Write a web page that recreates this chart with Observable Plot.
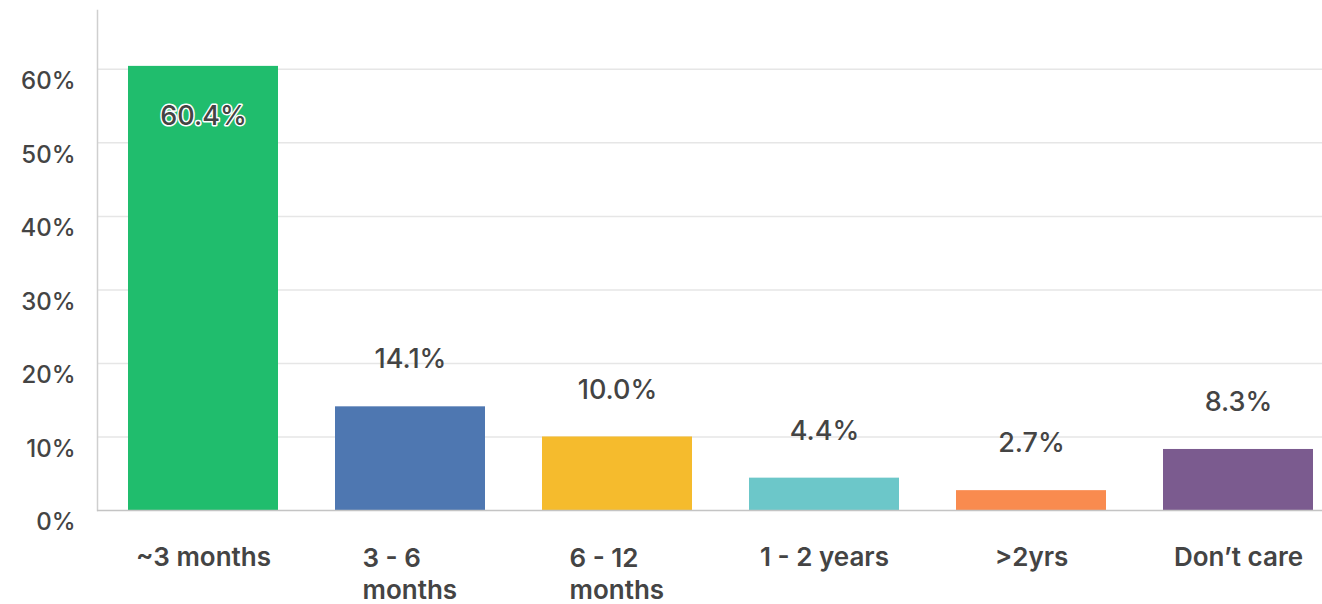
<!DOCTYPE html>
<html>
<head>
<meta charset="utf-8">
<script src="https://cdn.jsdelivr.net/npm/d3@7"></script>
<script src="https://cdn.jsdelivr.net/npm/@observablehq/plot@0.6"></script>
<style>
  html, body { margin: 0; padding: 0; background: #fff; }
  #chart svg { display: block; }
</style>
</head>
<body>
<div id="chart"></div>
<script>
const categories = ["~3 months", "3 - 6\nmonths", "6 - 12\nmonths", "1 - 2 years", ">2yrs", "Don’t care"];
const values = [60.4, 14.1, 10.0, 4.4, 2.7, 8.3];
const colors = ["#20bd6d", "#4e77b1", "#f5bb2d", "#6cc7c9", "#f98b4f", "#7b5b8f"];
const yTicks = [0, 10, 20, 30, 40, 50, 60];

const data = categories.map((c, i) => ({cat: c, value: values[i], color: colors[i], multi: c.includes("\n")}));
const inside = data.filter(d => d.value > 40);
const outside = data.filter(d => d.value <= 40);

const font = "Inter, 'Open Sans', sans-serif";

const chart = Plot.plot({
  width: 1322,
  height: 604,
  marginTop: 10,
  marginBottom: 94,
  marginLeft: 97,
  marginRight: 0,
  style: {fontFamily: font, fontSize: "20px", color: "#444", background: "#fff"},
  x: {domain: categories, range: [98, 1343], paddingInner: 0.277, paddingOuter: 0.1385, axis: null},
  y: {domain: [0, 68], axis: null},
  marks: [
    Plot.gridY(yTicks.filter(d => d > 0), {stroke: "#e6e6e6", strokeOpacity: 1, strokeWidth: 1.5}),
    Plot.text(yTicks, {y: d => d, text: d => d + "%", frameAnchor: "left", textAnchor: "end", dx: -22, dy: 12, fill: "#444", fontSize: 24, fontWeight: 500}),
    Plot.frame({anchor: "left", stroke: "#cfcfcf", strokeWidth: 1.5}),
    Plot.barY(data, {x: "cat", y: "value", fill: "color"}),
    Plot.ruleY([0], {stroke: "#c4c4c4", strokeWidth: 1.5}),
    Plot.text(outside, {x: "cat", y: "value", text: d => d.value.toFixed(1) + "%", dy: -47, fill: "#444", fontSize: 27, fontWeight: 500}),
    Plot.text(inside, {x: "cat", y: "value", text: d => d.value.toFixed(1) + "%", dy: 50, fill: "#444", stroke: "#fff", strokeWidth: 3, fontSize: 27, fontWeight: 500}),
    Plot.text(data.filter(d => !d.multi), {x: "cat", text: "cat", frameAnchor: "bottom", dy: 55, fill: "#444", fontSize: 26, fontWeight: 600}),
    Plot.text(data.filter(d => d.multi), {x: "cat", text: "cat", frameAnchor: "bottom", lineAnchor: "middle", textAnchor: "start", dx: -48, dy: 62, lineHeight: 1.26, fill: "#444", fontSize: 26, fontWeight: 600})
  ]
});
document.getElementById("chart").appendChild(chart);
</script>
</body>
</html>
